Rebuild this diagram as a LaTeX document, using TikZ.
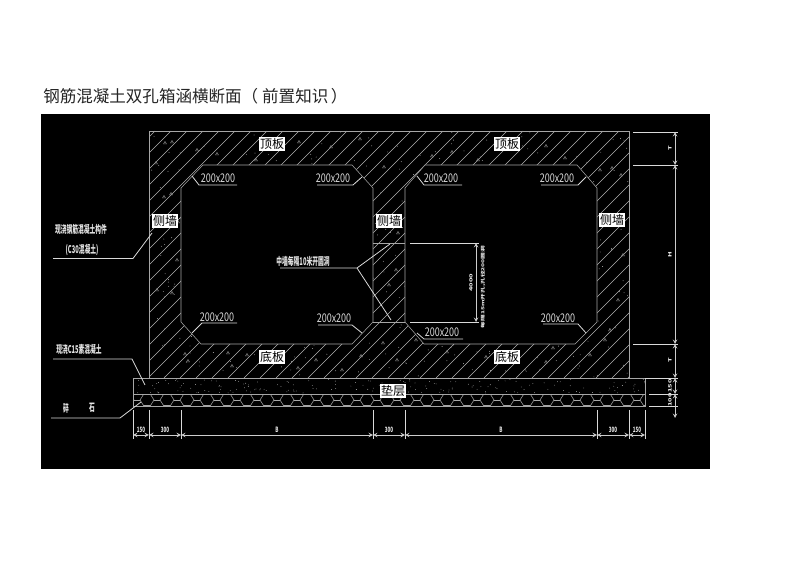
\documentclass[tikz,border=0pt]{standalone}
\usepackage{fontspec}
\setmainfont{Noto Sans CJK SC}
\usepackage{tikz}
\tikzset{
cadline/.style={white!65!black,line width=0.4pt},
hatchline/.style={white!70!black,line width=0.35pt},
leaderline/.style={white!85!black,line width=0.6pt},
dimline/.style={white!80!black,line width=0.5pt,<->,>=stealth},
planlabel/.style={fill=white,text=black,font=\fontsize{9}{9}\selectfont,inner sep=1pt},
chamfertext/.style={text=white!85!black,font=\fontsize{9}{9}\selectfont,xscale=0.75,inner sep=0pt},
notetext/.style={text=white!90!black,font=\fontsize{8}{8}\selectfont\bfseries,xscale=0.54,inner sep=0pt},
dimtext/.style={text=white!90!black,font=\fontsize{5.5}{5.5}\selectfont\bfseries,xscale=0.62,inner sep=0pt}
}
\newcommand{\drawLeader}[4]{
\coordinate (#1a) at (#2);\coordinate (#1b) at (#3);\coordinate (#1c) at (#4);
\draw [leaderline] (#1a) -- (#1b) -- (#1c);
}
\newcommand{\drawHex}[2]{
\draw [cadline] (#1-7,#2) -- (#1-3.5,#2-5.5) -- (#1+3.5,#2-5.5) -- (#1+7,#2) -- (#1+3.5,#2+5.5) -- (#1-3.5,#2+5.5) -- cycle;
\draw [cadline] (#1+7,#2) -- (#1+13,#2);
}
\newcommand{\drawTriangle}[2]{
\draw [white!55!black,line width=0.35pt] (#1,#2-1.5) -- (#1+1.5,#2+1) -- (#1-1.5,#2+1) -- cycle;
}
\newcommand{\drawDimH}[5]{
\coordinate (#1a) at (#2,435);\coordinate (#1b) at (#3,435);
\draw [dimline] (#1a) -- (#1b);
\node (#1t) at (#4,430) [dimtext] {#5};
}
\newcommand{\drawDimV}[5]{
\coordinate (#1a) at (675,#2);\coordinate (#1b) at (675,#3);
\draw [dimline] (#1a) -- (#1b);
\node (#1t) at (670,#4) [dimtext,rotate=90] {#5};
}
\begin{document}
\begin{tikzpicture}[x=0.75pt,y=-0.75pt]
\useasboundingbox (0,0) rectangle (800,566);
\fill [white] (0,0) rectangle (800,566);
\node (title) at (43,96) [anchor=west,font=\fontsize{12.4}{12.4}\selectfont,inner sep=0pt,text=black!85] {钢筋混凝土双孔箱涵横断面（\hspace{3pt}前置知识\hspace{2pt}）};
\fill [black] (41,114) rectangle (710,469);
%
% concrete hatching
\begin{scope}
\clip (149,131) rectangle (629,378);
\foreach \s in {-108,-92,...,636} {\draw [hatchline] (\s,378) -- (\s+247,131);}
\pgfmathsetseed{48213}
\foreach \n in {1,...,420} {\fill [white!70!black] ({149+480*rnd},{131+247*rnd}) circle (0.45);}
\end{scope}
\foreach \x/\y in {165/143,172/142,156/163,197/150,217/154,256/160,299/142,331/147,360/139,164/197,171/194,178/222,177/260,172/293,157/290,185/354,188/361,228/353,232/366,247/355,298/368,316/360,342/370,361/356,383/343,397/360,432/156,452/152,478/160,505/142,546/146,565/158,600/170,612/168,621/175,623/255,618/300,610/330,605/340,590/355,553/348,546/362,486/357,447/352,416/340,384/167,398/233,389/285,396/270} {\drawTriangle{\x}{\y}}
\draw [cadline] (149,131) -- (629,131) -- (629,378) -- (149,378) -- cycle;
%
% the two chambers
\filldraw [black,draw=white!65!black,line width=0.4pt] (203,165) -- (352,165) -- (373,188) -- (373,322) -- (352,344) -- (201,344) -- (181,322) -- (181,188) -- cycle;
\filldraw [black,draw=white!65!black,line width=0.4pt] (425,165) -- (577,165) -- (597,188) -- (597,322) -- (575,344) -- (424,344) -- (405,322) -- (405,188) -- cycle;
\draw [cadline] (373,243) -- (405,243);
\draw [cadline] (373,322) -- (405,322);
%
% cushion and gravel
\begin{scope}
\clip (133,378) rectangle (645,406);
\pgfmathsetseed{90417}
\foreach \n in {1,...,170} {\fill [white!70!black] ({133+512*rnd},{379+14*rnd}) circle (0.4);}
\foreach \x in {127,147,...,647} {\drawHex{\x}{400}}
\end{scope}
\draw [cadline] (133,378) rectangle (645,406);
\draw [cadline] (133,394) -- (645,394);
%
\drawLeader{cA}{192,176}{199,185}{237,185}
\drawLeader{cB}{317,185}{353,185}{362,177}
\drawLeader{cC}{417,176}{424,185}{462,185}
\drawLeader{cD}{541,185}{578,185}{586,177}
\drawLeader{cE}{237,323}{202,323}{192,333}
\drawLeader{cF}{318,325}{352,325}{362,333}
\drawLeader{cG}{417,333}{424,339}{463,339}
\drawLeader{cH}{543,324}{578,324}{586,333}
\node (chamferA) at (218,178) [chamfertext] {200x200};
\node (chamferB) at (333,178) [chamfertext] {200x200};
\node (chamferC) at (441,178) [chamfertext] {200x200};
\node (chamferD) at (557,178) [chamfertext] {200x200};
\node (chamferE) at (217,317) [chamfertext] {200x200};
\node (chamferF) at (334,318) [chamfertext] {200x200};
\node (chamferG) at (442,332) [chamfertext] {200x200};
\node (chamferH) at (558,318) [chamfertext] {200x200};
%
\node (topA) at (272,144) [planlabel] {顶板};
\node (topB) at (507,144) [planlabel] {顶板};
\node (wallA) at (165,221) [planlabel] {侧墙};
\node (wallB) at (389,221) [planlabel] {侧墙};
\node (wallC) at (612,220) [planlabel] {侧墙};
\node (baseA) at (272,357) [planlabel] {底板};
\node (baseB) at (507,357) [planlabel] {底板};
\node (cushion) at (393,391) [planlabel] {垫层};
%
\node (noteA) at (81,229) [notetext] {现浇钢筋混凝土构件};
\node (noteB) at (82,250) [notetext] {(C30混凝土)};
\drawLeader{nA}{53,258.5}{133,258.5}{152,233}
\node (noteC) at (79,349) [notetext] {现浇C15素混凝土};
\drawLeader{nC}{53,359}{132,359}{145,385}
\node (noteD) at (66,408) [notetext] {碎};
\node (noteE) at (92,408) [notetext] {石};
\drawLeader{nD}{51,418}{120,418}{141,402}
\node (noteF) at (303,261) [notetext] {中墙每隔10米开圆洞};
\drawLeader{nF}{280,268}{357,268}{390,244}
\coordinate (nFd) at (391,320);
\draw [leaderline] (nFb) -- (nFd);
%
% opening in the middle wall
\coordinate (openC) at (410,243);\coordinate (openD) at (479,243);
\coordinate (openE) at (410,322);\coordinate (openF) at (479,322);
\draw [leaderline] (openC) -- (openD);
\draw [leaderline] (openE) -- (openF);
\coordinate (openA) at (476,243);\coordinate (openB) at (476,322);
\draw [dimline] (openA) -- (openB);
\node (openT) at (471,283) [dimtext,rotate=90] {4000};
\node (openN) at (483,287) [dimtext,rotate=90,font=\fontsize{5}{5}\selectfont\bfseries] {每隔15m开孔,孔径200圆洞};
%
% dimensions below
\foreach \x in {133,149,181,373,405,597,629,645} {\draw [leaderline] (\x,410) -- (\x,439);}
\drawDimH{dA}{133}{149}{141}{150}
\drawDimH{dB}{149}{181}{165}{300}
\drawDimH{dC}{181}{373}{277}{B}
\drawDimH{dD}{373}{405}{389}{300}
\drawDimH{dE}{405}{597}{501}{B}
\drawDimH{dF}{597}{629}{613}{300}
\drawDimH{dG}{629}{645}{637}{150}
%
% dimensions to the right
\draw [leaderline] (633,132) -- (678,132);
\draw [leaderline] (633,165) -- (678,165);
\draw [leaderline] (633,344) -- (678,344);
\draw [leaderline] (645,378) -- (678,378);
\draw [leaderline] (649,394) -- (678,394);
\draw [leaderline] (649,406) -- (678,406);
\drawDimV{rA}{132}{165}{148}{T}
\drawDimV{rB}{165}{344}{255}{H}
\drawDimV{rC}{344}{378}{360}{T}
\drawDimV{rD}{378}{394}{386}{150}
\drawDimV{rE}{394}{418}{400}{100}
\end{tikzpicture}
\end{document}
